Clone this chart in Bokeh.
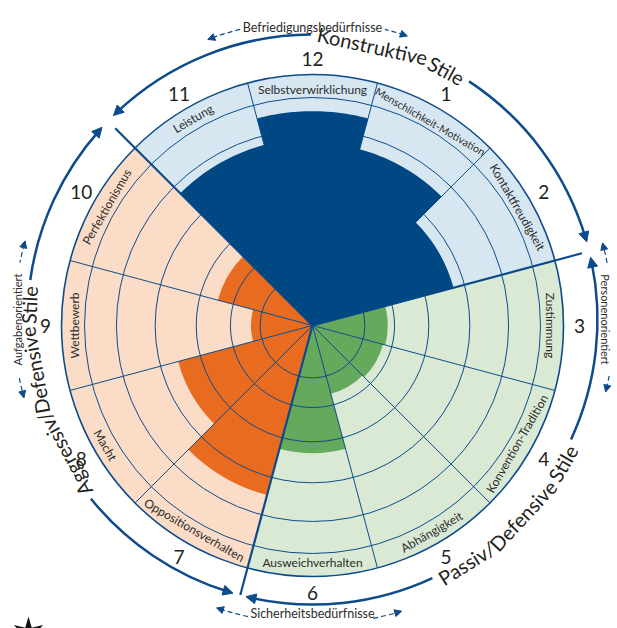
import math
from bokeh.plotting import figure
from bokeh.models import Range1d, Arrow, NormalHead, ColumnDataSource
from bokeh.core.properties import value
from bokeh.embed import file_html
from bokeh.resources import INLINE

# ---------------- data ----------------
style_numbers = ["1", "2", "3", "4", "5", "6", "7", "8", "9", "10", "11", "12"]
style_names = ["Menschlichkeit-Motivation", "Kontaktfreudigkeit", "Zustimmung",
               "Konvention-Tradition", "Abhängigkeit", "Ausweichverhalten",
               "Oppositionsverhalten", "Macht", "Wettbewerb", "Perfektionismus",
               "Leistung", "Selbstverwirklichung"]
style_scores = [80, 64, 33, 32, 31, 56, 77, 61, 27, 43, 82, 94]
style_cluster = [0, 0, 1, 1, 1, 1, 2, 2, 2, 2, 0, 0]
ring_levels = [23, 36, 51, 69, 86]
cluster_names = ["Konstruktive Stile", "Passiv/Defensive Stile", "Aggressiv/Defensive Stile"]
orientation_labels = ["Befriedigungsbedürfnisse", "Personenorientiert",
                      "Sicherheitsbedürfnisse", "Aufgabenorientiert"]

# ---------------- styling / geometry ----------------
BAR = ["#004884", "#64a95c", "#e86b1f"]
BG = ["#d7e7f2", "#d9e9d4", "#fbdcc6"]
LINE = "#0e4b8b"
TXT = "#2b2b2b"
FONT = "Lato"
R_DATA = 228.0
R_OUT = 251.0
R_LAB = 239.5
R_NUM = 267.0
R_ARC = 285.0
ACX, ACY = 0.0, 6.0  # centre of outer arcs

W = {' ': 0.193, '/': 0.39, '-': 0.34,
     'a': 0.506, 'b': 0.563, 'c': 0.461, 'd': 0.563, 'e': 0.522, 'f': 0.322, 'g': 0.51,
     'h': 0.561, 'i': 0.239, 'j': 0.239, 'k': 0.51, 'l': 0.239, 'm': 0.846, 'n': 0.561,
     'o': 0.56, 'p': 0.563, 'q': 0.563, 'r': 0.372, 's': 0.426, 't': 0.353, 'u': 0.561,
     'v': 0.503, 'w': 0.767, 'x': 0.49, 'y': 0.503, 'z': 0.45, 'ä': 0.506, 'ü': 0.561,
     'A': 0.68, 'B': 0.63, 'D': 0.75, 'K': 0.66, 'L': 0.5, 'M': 0.9, 'O': 0.77,
     'P': 0.59, 'S': 0.5, 'W': 0.98, 'Z': 0.6}


def tw(s, size):
    return sum(W.get(ch, 0.55) for ch in s) * size


def rad(a):
    return math.radians(a)


def pol(r, a_deg, cx=0.0, cy=0.0):
    return cx + r * math.cos(rad(a_deg)), cy + r * math.sin(rad(a_deg))


def split_segments(text):
    out = []
    words = text.split(" ")
    for wi, w in enumerate(words):
        parts = w.split("/")
        for pi, part in enumerate(parts):
            seg = part + ("/" if pi < len(parts) - 1 else "")
            gap = 0.0
            if pi == len(parts) - 1 and wi < len(words) - 1:
                gap = 1.0
            out.append((seg, gap))
    return out


def arc_text(text, center_deg, r, size, outward, cx=0.0, cy=0.0, split=True):
    segs = split_segments(text) if split else [(text, 0.0)]
    sp = tw(" ", size)
    widths = [tw(s, size) for s, _ in segs]
    total = sum(widths) + sum(g * sp for _, g in segs)
    d = -1.0 if outward else 1.0
    start = rad(center_deg) - d * total / 2.0 / r
    xs, ys, ts, angs = [], [], [], []
    off = 0.0
    for (s, g), w in zip(segs, widths):
        mid = start + d * (off + w / 2.0) / r
        rc = r - w * w / (16.0 * r)
        xs.append(cx + rc * math.cos(mid))
        ys.append(cy + rc * math.sin(mid))
        ts.append(s)
        angs.append(mid - math.pi / 2 if outward else mid + math.pi / 2)
        off += w + g * sp
    half = math.degrees(total / 2.0 / r)
    return xs, ys, ts, angs, half


# page has no margin: figure covers the full 617x628 window, chart centre at (312, 325)
p = figure(width=617, height=628, x_range=Range1d(-312, 305), y_range=Range1d(-303, 325),
           output_backend="svg", toolbar_location=None, min_border=0,
           x_axis_location=None, y_axis_location=None)
p.grid.visible = False
p.outline_line_color = None
p.background_fill_color = "white"
p.border_fill_color = "white"

theta = [(90 - 30 * (k + 1)) % 360 for k in range(12)]

# background sectors
bg_src = ColumnDataSource(dict(
    s=[rad(t - 15) for t in theta], e=[rad(t + 15) for t in theta],
    c=[BG[c] for c in style_cluster]))
p.wedge(x=0, y=0, radius=R_OUT, start_angle="s", end_angle="e", fill_color="c",
        line_color=None, source=bg_src)

# orange / green bars (grid drawn on top)
idx = [k for k in range(12) if style_cluster[k] != 0]
bar_src = ColumnDataSource(dict(
    s=[rad(theta[k] - 15) for k in idx], e=[rad(theta[k] + 15) for k in idx],
    r=[style_scores[k] / 100.0 * R_DATA for k in idx],
    c=[BAR[style_cluster[k]] for k in idx]))
p.wedge(x=0, y=0, radius="r", start_angle="s", end_angle="e", fill_color="c",
        line_color=None, source=bar_src)

# rings
ring_r = [lv / 100.0 * R_DATA for lv in ring_levels] + [R_DATA]
p.circle(x=[0] * len(ring_r), y=[0] * len(ring_r), radius=ring_r, fill_color=None,
         line_color=LINE, line_width=1)
p.circle(x=[0], y=[0], radius=[R_OUT], fill_color=None, line_color=LINE, line_width=1.6)

# radial lines
bnd = [15 + 30 * k for k in range(12)]
p.segment(x0=[0] * 12, y0=[0] * 12,
          x1=[pol(R_OUT, a)[0] for a in bnd], y1=[pol(R_OUT, a)[1] for a in bnd],
          line_color=LINE, line_width=1)
thick = [15, 135, 255]
p.segment(x0=[0] * 3, y0=[0] * 3,
          x1=[pol(279, a)[0] for a in thick], y1=[pol(279, a)[1] for a in thick],
          line_color=LINE, line_width=2.2)

# constructive bars as one stepped polygon (drawn over grid)
order = sorted([k for k in range(12) if style_cluster[k] == 0],
               key=lambda k: (theta[k] - 15) % 360)
px, py = [0.0], [0.0]
for k in order:
    r = style_scores[k] / 100.0 * R_DATA
    a0 = theta[k] - 15
    for j in range(31):
        x, y = pol(r, a0 + j)
        px.append(x)
        py.append(y)
p.patch(px, py, fill_color=BAR[0], line_color=None)

# band labels
lx, ly, lt, la, ls = [], [], [], [], []
for k in range(12):
    t = theta[k]
    outward = (0 <= t <= 180)
    size = min(12.0, 124.0 / tw(style_names[k], 1.0))
    xs, ys, ts, angs, _ = arc_text(style_names[k], t, R_LAB, size, outward, split=False)
    lx += xs; ly += ys; lt += ts; la += angs; ls += ["%.1fpx" % size]
p.text(x=lx, y=ly, text=lt, angle=la, text_font_size=ls, text_font=value(FONT),
       text_color=TXT, text_align="center", text_baseline="middle")

# numbers
p.text(x=[pol(R_NUM, t)[0] for t in theta], y=[pol(R_NUM, t)[1] for t in theta],
       text=style_numbers, text_font=value(FONT), text_font_size=value("19px"),
       text_color="#231f20", text_align="center", text_baseline="middle")

# outer arcs with titles and arrow heads
arc_spec = [  # lo tip, hi tip, title centre, title radius
    (15.8, 134.3, 73.5, 283.0),
    (256.5, 372.6, 315.0, 289.0),
    (137.6, 253.8, 195.5, 284.0),
]
arc_s, arc_e = [], []
head = dict(x0=[], y0=[], x1=[], y1=[])
tx, ty, tt, ta = [], [], [], []
for ci, (lo, hi, tc, tr) in enumerate(arc_spec):
    outward = ci != 1
    xs, ys, ts, angs, half = arc_text(cluster_names[ci], tc, tr, 20.0, outward, ACX, ACY)
    tx += xs; ty += ys; tt += ts; ta += angs
    g0, g1 = tc - half - 1.3, tc + half + 1.3
    hl = math.degrees(4.0 / R_ARC)
    arc_s += [rad(lo + hl), rad(g1)]
    arc_e += [rad(g0), rad(hi - hl)]
    back = math.degrees(9.0 / R_ARC)
    for tip, d in ((lo, -1), (hi, 1)):
        sx, sy = pol(R_ARC, tip - d * back, ACX, ACY)
        ex, ey = pol(R_ARC, tip, ACX, ACY)
        head["x0"].append(sx); head["y0"].append(sy)
        head["x1"].append(ex); head["y1"].append(ey)
p.arc(x=[ACX] * len(arc_s), y=[ACY] * len(arc_s), radius=R_ARC, start_angle=arc_s,
      end_angle=arc_e, line_color=LINE, line_width=2.5)
p.add_layout(Arrow(end=NormalHead(size=10, fill_color=LINE, line_color=LINE, line_width=1),
                   source=ColumnDataSource(head), x_start="x0", y_start="y0",
                   x_end="x1", y_end="y1", line_color=LINE, line_width=2.5))
p.text(x=tx, y=ty, text=tt, angle=ta, text_font=value(FONT), text_font_size=value("20px"),
       text_color="#231f20", text_align="center", text_baseline="middle")

# orientation labels with dashed arrows
orient_spec = [  # centre angle, radius, size, outward, arrows (r, from, to)
    (90.0, 296.0, 12.5, True, [(299, 104.0, 110.5), (299, 76.0, 71.5)]),
    (0.0, 295.0, 11.0, True, [(300, 10.9, 14.8), (302, -10.2, -13.9)]),
    (-90.0, 297.0, 12.5, False, [(304, -102.0, -108.4), (305, -78.5, -73.0)]),
    (180.0, 297.0, 11.0, True, [(298, 169.0, 164.7), (299, 191.3, 195.2)]),
]
ox, oy, ot, oa, osz = [], [], [], [], []
ds, de, dr = [], [], []
dhead = dict(x0=[], y0=[], x1=[], y1=[])
for li, (ac, r, size, outward, arrows) in enumerate(orient_spec):
    xs, ys, ts, angs, _ = arc_text(orientation_labels[li], ac, r, size, outward, ACX, ACY,
                                   split=False)
    ox += xs; oy += ys; ot += ts; oa += angs; osz.append("%.1fpx" % size)
    for (ar, a_from, a_to) in arrows:
        d = 1.0 if a_to > a_from else -1.0
        back = math.degrees(6.0 / ar)
        a_end = a_to - d * back * 0.6
        lo_a, hi_a = min(a_from, a_end), max(a_from, a_end)
        ds.append(rad(lo_a)); de.append(rad(hi_a)); dr.append(ar)
        sx, sy = pol(ar, a_to - d * back, ACX, ACY)
        ex, ey = pol(ar, a_to, ACX, ACY)
        dhead["x0"].append(sx); dhead["y0"].append(sy)
        dhead["x1"].append(ex); dhead["y1"].append(ey)
p.arc(x=[ACX] * len(ds), y=[ACY] * len(ds), radius=dr, start_angle=ds, end_angle=de,
      line_color=LINE, line_width=1.2, line_dash="5 3")
p.add_layout(Arrow(end=NormalHead(size=7, fill_color=LINE, line_color=LINE, line_width=1),
                   source=ColumnDataSource(dhead), x_start="x0", y_start="y0",
                   x_end="x1", y_end="y1", line_color=LINE, line_width=1.2))
p.text(x=ox, y=oy, text=ot, angle=oa, text_font=value(FONT), text_font_size=osz,
       text_color=TXT, text_align="center", text_baseline="middle")

# publisher logo (star), partly below the bottom edge
sx_, sy_ = [], []
for j in range(12):
    rr = 17.0 if j % 2 == 0 else 6.5
    x, y = pol(rr, 90 + 30 * j, -284.0, -308.0)
    sx_.append(x); sy_.append(y)
p.patch(sx_, sy_, fill_color="#111111", line_color=None)

open("out.html", "w").write(file_html(p, INLINE))
